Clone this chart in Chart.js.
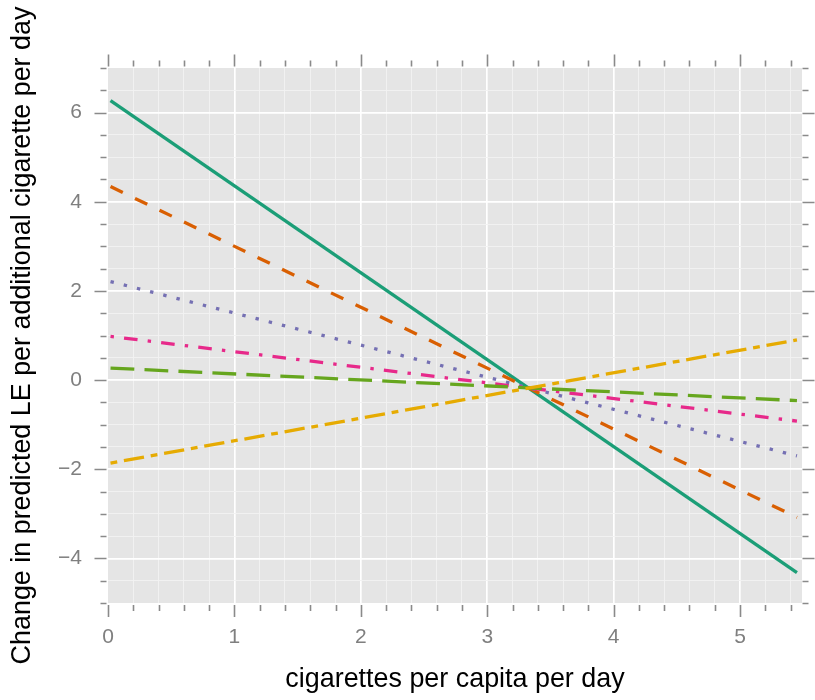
<!DOCTYPE html>
<html>
<head>
<meta charset="utf-8">
<script src="https://cdn.jsdelivr.net/npm/chart.js@4"></script>
<style>
  html, body { margin: 0; padding: 0; background: #ffffff; }
  #wrap { width: 815px; height: 700px; }
</style>
</head>
<body>
<div id="wrap"><canvas id="c" width="815" height="700"></canvas></div>
<script>
// ---- data ----
const xEnds = [0.02, 5.45];                 // cigarettes per capita per day (line endpoints)
const seriesSolid    = [6.27, -4.32];
const seriesDashed   = [4.34, -3.08];
const seriesDotted   = [2.21, -1.70];
const seriesDotDash  = [0.98, -0.92];
const seriesLongDash = [0.27, -0.46];
const seriesTwoDash  = [-1.86, 0.90];

// ---- axis ticks ----
const xTicks = [0, 0.2, 0.4, 0.6, 0.8, 1, 1.2, 1.4, 1.6, 1.8, 2, 2.2, 2.4, 2.6, 2.8, 3, 3.2, 3.4, 3.6, 3.8, 4, 4.2, 4.4, 4.6, 4.8, 5, 5.2, 5.4];
const xLabels = [0, 1, 2, 3, 4, 5];
const yTicks = [-5, -4.5, -4, -3.5, -3, -2.5, -2, -1.5, -1, -0.5, 0, 0.5, 1, 1.5, 2, 2.5, 3, 3.5, 4, 4.5, 5, 5.5, 6, 6.5, 7];
const yLabels = [-4, -2, 0, 2, 4, 6];
const xRange = [0, 5.49];
const yRange = [-5, 7];

const xTitle = 'cigarettes per capita per day';
const yTitle = 'Change in predicted LE per additional cigarette per day';

// ---- styling ----
const LW = 3.3;
const U = 3.4;
const FONT = "'Liberation Sans', Arial, Helvetica, sans-serif";
const styles = [
  { data: seriesSolid,    color: '#1B9E77', dash: [] },
  { data: seriesDashed,   color: '#D95F02', dash: [4*U, 4*U] },
  { data: seriesDotted,   color: '#7570B3', dash: [1*U, 3*U] },
  { data: seriesDotDash,  color: '#E7298A', dash: [1*U, 3*U, 4*U, 3*U] },
  { data: seriesLongDash, color: '#66A61E', dash: [7*U, 3*U] },
  { data: seriesTwoDash,  color: '#E6AB02', dash: [2*U, 2*U, 6*U, 2*U] }
];

const near = (a, b) => Math.abs(a - b) < 1e-6;
const isLabel = (arr, v) => arr.some(l => near(l, v));

const datasets = styles.map((s, i) => ({
  data: xEnds.map((x, j) => ({ x: x, y: s.data[j] })),
  borderColor: s.color,
  borderWidth: LW,
  borderDash: s.dash,
  borderCapStyle: 'butt',
  pointRadius: 0,
  fill: false,
  tension: 0,
  order: styles.length - i
}));

const panelBg = {
  id: 'panelBg',
  beforeDraw(chart) {
    const { ctx, chartArea: a } = chart;
    ctx.save();
    ctx.fillStyle = '#E5E5E5';
    ctx.fillRect(a.left, a.top, a.right - a.left, a.bottom - a.top);
    ctx.restore();
  }
};

const tickMarks = {
  id: 'tickMarks',
  afterDraw(chart) {
    const { ctx, chartArea: a, scales } = chart;
    ctx.save();
    ctx.strokeStyle = '#8A8A8A';
    ctx.lineWidth = 1.6;
    ctx.beginPath();
    scales.x.ticks.forEach(t => {
      const px = Math.round(scales.x.getPixelForValue(t.value)) + 0.5;
      const major = isLabel(xLabels, t.value);
      const len = major ? 12 : 6;
      // bottom
      ctx.moveTo(px, a.bottom + 2);
      ctx.lineTo(px, a.bottom + 2 + len);
      // top
      ctx.moveTo(px, a.top - 1.5);
      ctx.lineTo(px, a.top - 1.5 - len);
    });
    scales.y.ticks.forEach(t => {
      const py = Math.round(scales.y.getPixelForValue(t.value)) + 0.5;
      const major = isLabel(yLabels, t.value);
      const len = major ? 12 : 6;
      // left
      ctx.moveTo(a.left - 1.5, py);
      ctx.lineTo(a.left - 1.5 - len, py);
      // right
      ctx.moveTo(a.right + 0.5, py);
      ctx.lineTo(a.right + 0.5 + len, py);
    });
    ctx.stroke();
    ctx.restore();
  }
};

function gridColor(labels, range) {
  return ctx => {
    const v = ctx.tick ? ctx.tick.value : null;
    if (v === null) return 'rgba(0,0,0,0)';
    if (near(v, range[0]) || near(v, range[1])) return 'rgba(0,0,0,0)';
    return isLabel(labels, v) ? '#FFFFFF' : '#F2F2F2';
  };
}
function gridWidth(labels) {
  return ctx => (ctx.tick && isLabel(labels, ctx.tick.value)) ? 1.7 : 0.9;
}

new Chart(document.getElementById('c'), {
  type: 'line',
  data: { datasets },
  options: {
    responsive: false,
    devicePixelRatio: 1,
    animation: false,
    events: [],
    layout: { padding: { top: 68, right: 13, left: 0, bottom: 0 } },
    plugins: { legend: { display: false }, tooltip: { enabled: false }, title: { display: false } },
    scales: {
      x: {
        type: 'linear',
        min: xRange[0],
        max: xRange[1],
        afterBuildTicks: scale => { scale.ticks = xTicks.map(v => ({ value: v })); },
        afterFit: scale => { scale.height = 97; },
        border: { display: false },
        grid: { color: gridColor(xLabels, xRange), lineWidth: gridWidth(xLabels), drawTicks: false },
        ticks: {
          autoSkip: false,
          maxRotation: 0,
          padding: 22,
          color: '#7F7F7F',
          font: { family: FONT, size: 21 },
          callback: v => isLabel(xLabels, v) ? String(Math.round(v)) : ''
        },
        title: {
          display: true,
          text: xTitle,
          color: '#000000',
          font: { family: FONT, size: 26.9 },
          padding: { top: 0, bottom: 4 }
        }
      },
      y: {
        type: 'linear',
        min: yRange[0],
        max: yRange[1],
        afterBuildTicks: scale => { scale.ticks = yTicks.map(v => ({ value: v })); },
        afterFit: scale => { scale.width = 108; },
        border: { display: false },
        grid: { color: gridColor(yLabels, yRange), lineWidth: gridWidth(yLabels), drawTicks: false },
        ticks: {
          autoSkip: false,
          padding: 26,
          color: '#7F7F7F',
          font: { family: FONT, size: 21 },
          callback: v => {
            if (!isLabel(yLabels, v)) return '';
            const r = Math.round(v);
            return r < 0 ? '\u2212' + Math.abs(r) : String(r);
          }
        },
        title: {
          display: true,
          text: yTitle,
          color: '#000000',
          font: { family: FONT, size: 26.9 },
          padding: { top: 6, bottom: 0 }
        }
      }
    }
  },
  plugins: [panelBg, tickMarks]
});
</script>
</body>
</html>
